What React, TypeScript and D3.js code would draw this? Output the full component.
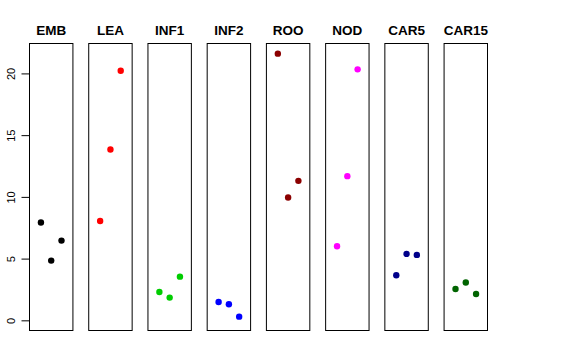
import React, { useRef, useEffect } from 'react';
import * as d3 from 'd3';

const groups = ['EMB', 'LEA', 'INF1', 'INF2', 'ROO', 'NOD', 'CAR5', 'CAR15'];
const colors = ['#000000', '#FF0000', '#00CD00', '#0000FF', '#8B0000', '#FF00FF', '#00008B', '#006400'];
const reps = [1, 2, 3];
const values = [
  [7.92, 4.84, 6.46],
  [8.05, 13.84, 20.22],
  [2.3, 1.84, 3.54],
  [1.48, 1.3, 0.3],
  [21.6, 9.95, 11.3],
  [6.0, 11.68, 20.33],
  [3.65, 5.38, 5.3],
  [2.54, 3.06, 2.13],
];
const yTicks = [0, 5, 10, 15, 20];

export default function App() {
  const ref = useRef<SVGSVGElement>(null);

  useEffect(() => {
    if (!ref.current) return;
    const svg = d3.select(ref.current);
    svg.selectAll('*').remove();

    const top = 43, bottom = 331, left = 29, right = 488;

    const band = d3.scaleBand<string>()
      .domain(groups)
      .range([left, right])
      .paddingInner(0.25)
      .paddingOuter(0);

    // R-style 4% padding on both axes
    const yMax = d3.max(values.flat()) as number;
    const yPad = yMax * 0.04;
    const y = d3.scaleLinear().domain([-yPad, yMax + yPad]).range([bottom, top]);

    const x = d3.scaleLinear().domain([-0.16, 4.16]).range([0, band.bandwidth()]);

    groups.forEach((g, i) => {
      const gx = band(g) as number;
      const panel = svg.append('g').attr('transform', `translate(${gx},0)`);

      panel.append('rect')
        .attr('x', 0.5)
        .attr('y', top + 0.5)
        .attr('width', band.bandwidth() - 1)
        .attr('height', bottom - top - 1)
        .attr('fill', 'none')
        .attr('stroke', '#000')
        .attr('stroke-width', 1);

      panel.append('text')
        .attr('x', band.bandwidth() / 2)
        .attr('y', 34.5)
        .attr('text-anchor', 'middle')
        .attr('font-family', 'Liberation Sans, Arial, sans-serif')
        .attr('font-weight', 'bold')
        .attr('font-size', 13.5)
        .text(g);

      panel.selectAll('circle')
        .data(values[i])
        .enter()
        .append('circle')
        .attr('cx', (_, j) => x(reps[j]))
        .attr('cy', d => y(d))
        .attr('r', 3.2)
        .attr('fill', colors[i]);
    });

    // Y axis on the first panel
    const axis = svg.append('g').attr('transform', `translate(${left + 0.5},0)`);
    axis.call(d3.axisLeft(y).tickValues(yTicks).tickSize(8).tickPadding(0).tickFormat(d3.format('d')));
    axis.select('.domain').attr('d', `M0,${y(0)}V${y(20)}`).attr('stroke', '#000');
    axis.selectAll('.tick line').attr('stroke', '#000');
    axis.selectAll('.tick text')
      .attr('x', 0)
      .attr('y', 0)
      .attr('dy', null)
      .attr('transform', 'translate(-15,0) rotate(-90)')
      .attr('text-anchor', 'middle')
      .attr('font-family', 'Liberation Sans, Arial, sans-serif')
      .attr('font-size', 11)
      .attr('fill', '#000');
  }, []);

  return (
    <svg
      ref={ref}
      width={576}
      height={360}
      style={{ position: 'absolute', left: 0, top: 0, background: '#fff' }}
    />
  );
}
